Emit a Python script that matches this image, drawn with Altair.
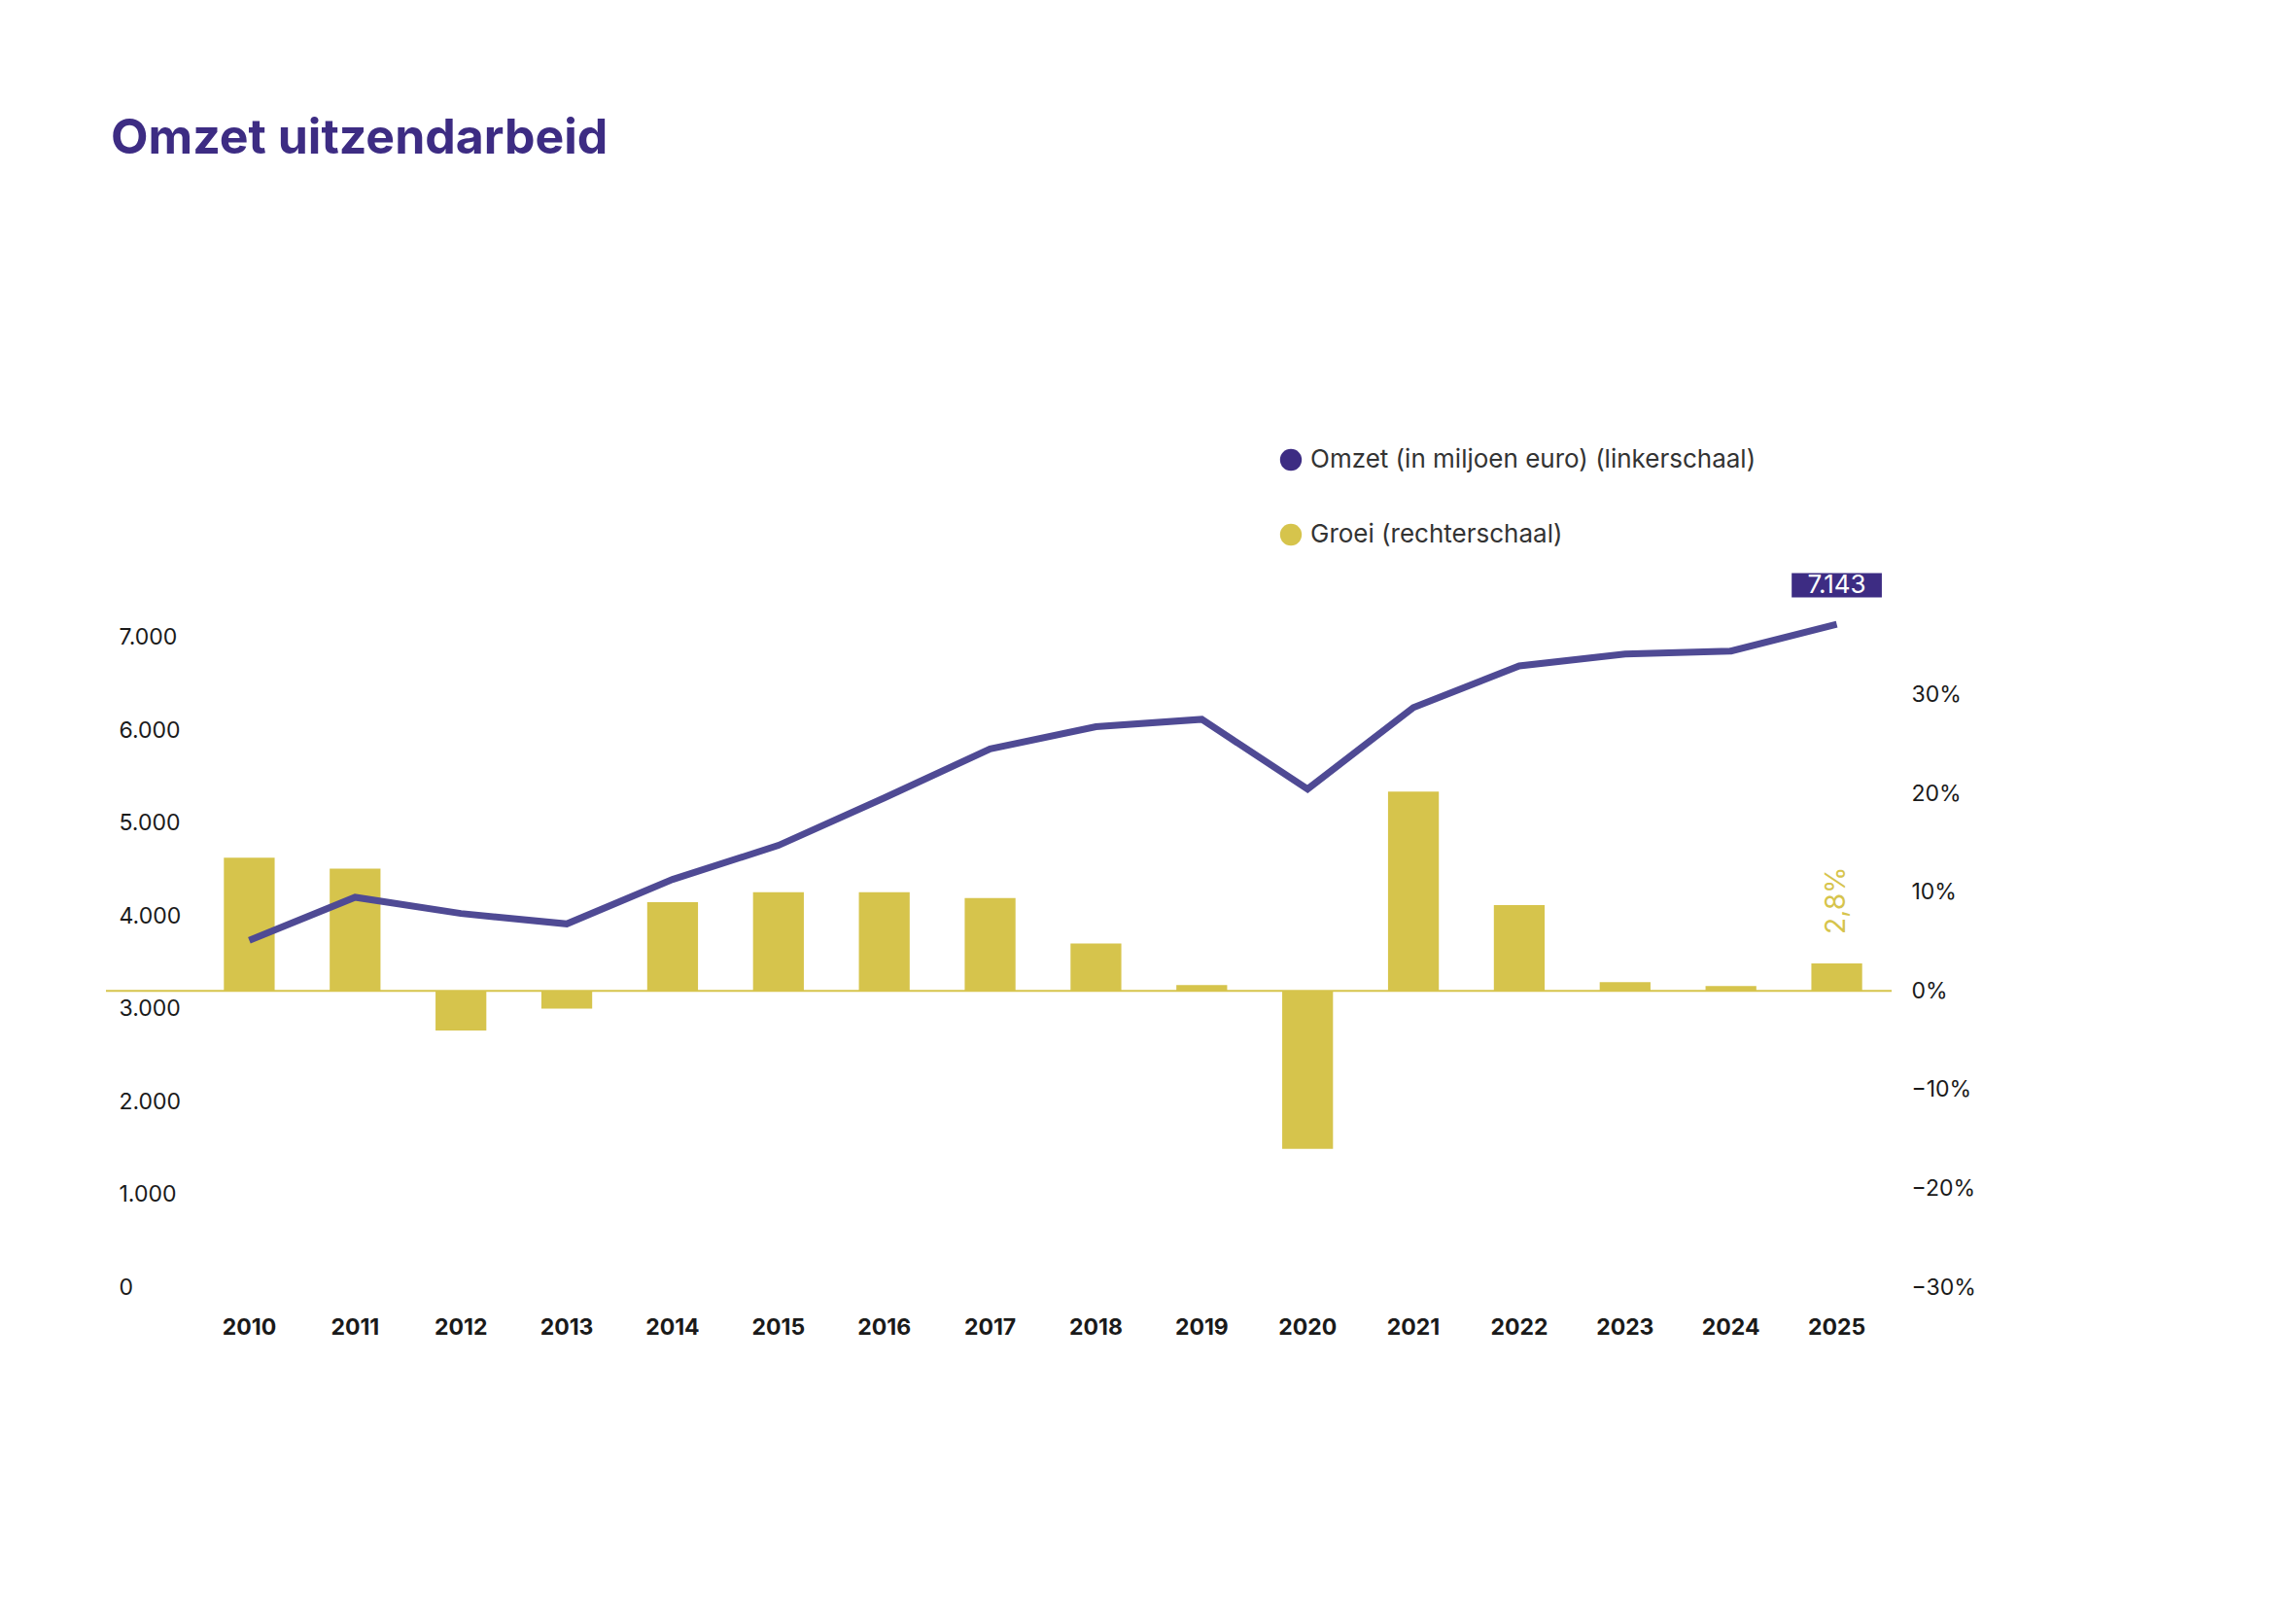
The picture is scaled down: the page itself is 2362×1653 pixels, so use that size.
import altair as alt
import pandas as pd

PURPLE = "#3D2C83"
LINE = "#4F4A94"
YELLOW = "#D6C44C"
FONT = "Inter"

years = [str(y) for y in range(2010, 2026)]
omzet = [3738, 4201, 4026, 3914, 4393, 4760, 5272, 5799, 6038, 6118, 5367, 6246, 6693, 6821, 6853, 7143]
groei = [13.5, 12.4, -4.0, -1.8, 9.0, 10.0, 10.0, 9.4, 4.8, 0.6, -16.0, 20.2, 8.7, 0.9, 0.5, 2.8]

df = pd.DataFrame({"jaar": years, "omzet": omzet, "groei": groei})
W, H = 1742, 716

x = alt.X("jaar:O", title=None, scale=alt.Scale(paddingInner=0.52, paddingOuter=0.26),
          axis=alt.Axis(labelAngle=0, labelFont=FONT, labelFontWeight="bold", labelFontSize=23,
                        labelColor="#1a1a1a", domain=False, ticks=False, labelPadding=30))
xs = alt.X("jaar:O")

rscale = alt.Scale(domain=[-30, 40.5], nice=False)
bars = alt.Chart(df).mark_bar(color=YELLOW).encode(
    x=x,
    y=alt.Y("groei:Q", title=None, scale=rscale,
            axis=alt.Axis(orient="right", values=[-30, -20, -10, 0, 10, 20, 30], grid=False,
                          domain=False, ticks=False, labelFont=FONT, labelFontSize=23,
                          labelColor="#1a1a1a", labelPadding=22,
                          labelExpr="format(datum.value, 'd') + '%'")),
)
zero = alt.Chart(pd.DataFrame({"groei": [0]})).mark_rule(color=YELLOW, strokeWidth=2).encode(
    y=alt.Y("groei:Q", scale=rscale),
    x=alt.value(-93), x2=alt.value(W + 2),
)
last_lbl = alt.Chart(df.tail(1)).mark_text(color=YELLOW, font=FONT, fontSize=28, angle=270,
                                           align="left", dx=30, baseline="middle").encode(
    x=xs, y=alt.Y("groei:Q", scale=rscale),
    text=alt.Text("lbl:N"),
).transform_calculate(lbl="replace(format(datum.groei, '.1f'), '.', ',') + '%'")

right = alt.layer(bars, zero, last_lbl)

lscale = alt.Scale(domain=[0, 7500], nice=False)
line = alt.Chart(df).mark_line(color=LINE, strokeWidth=7).encode(
    x=xs,
    y=alt.Y("omzet:Q", title=None, scale=lscale,
            axis=alt.Axis(values=[0, 1000, 2000, 3000, 4000, 5000, 6000, 7000], grid=False,
                          domain=False, ticks=False, labelFont=FONT, labelFontSize=23,
                          labelColor="#1a1a1a", labelAlign="left", labelPadding=80,
                          labelExpr="replace(format(datum.value, ','), ',', '.')")),
)
box = alt.Chart(df.tail(1)).mark_point(
    shape="M-1,-0.27L1,-0.27L1,0.27L-1,0.27Z", filled=True, opacity=1, color=PURPLE, size=8600
).encode(x=xs, y=alt.Y("omzet:Q", scale=lscale), yOffset=alt.value(-40))
boxtxt = alt.Chart(df.tail(1)).mark_text(color="white", font=FONT, fontSize=26, dy=-40).encode(
    x=xs, y=alt.Y("omzet:Q", scale=lscale),
    text=alt.Text("t:N"),
).transform_calculate(t="replace(format(datum.omzet, ','), ',', '.')")

left = alt.layer(line, box, boxtxt)

leg = pd.DataFrame({"label": ["Omzet (in miljoen euro) (linkerschaal)", "Groei (rechterschaal)"],
                    "c": [PURPLE, YELLOW], "yy": [-135, -58]})
legdots = alt.Chart(leg).mark_circle(size=500, opacity=1).encode(
    x=alt.value(1126), y=alt.Y("yy:Q", scale=None), color=alt.Color("c:N", scale=None))
legtxt = alt.Chart(leg).mark_text(align="left", font=FONT, fontSize=26, color="#333333", dx=20).encode(
    x=alt.value(1126), y=alt.Y("yy:Q", scale=None), text="label:N")
title = alt.Chart(pd.DataFrame({"t": ["Omzet uitzendarbeid"]})).mark_text(
    align="left", baseline="middle", font=FONT, fontSize=50, fontWeight="bold", color=PURPLE
).encode(x=alt.value(-88), y=alt.value(-465), text="t:N")

chart = alt.layer(right, left, legdots, legtxt, title).resolve_scale(y="independent").properties(
    width=W, height=H, padding={"left": 100, "top": 110, "right": 60, "bottom": 40}
).configure_view(stroke=None)

chart.save("out.html", embed_options={"renderer": "svg", "actions": False})
